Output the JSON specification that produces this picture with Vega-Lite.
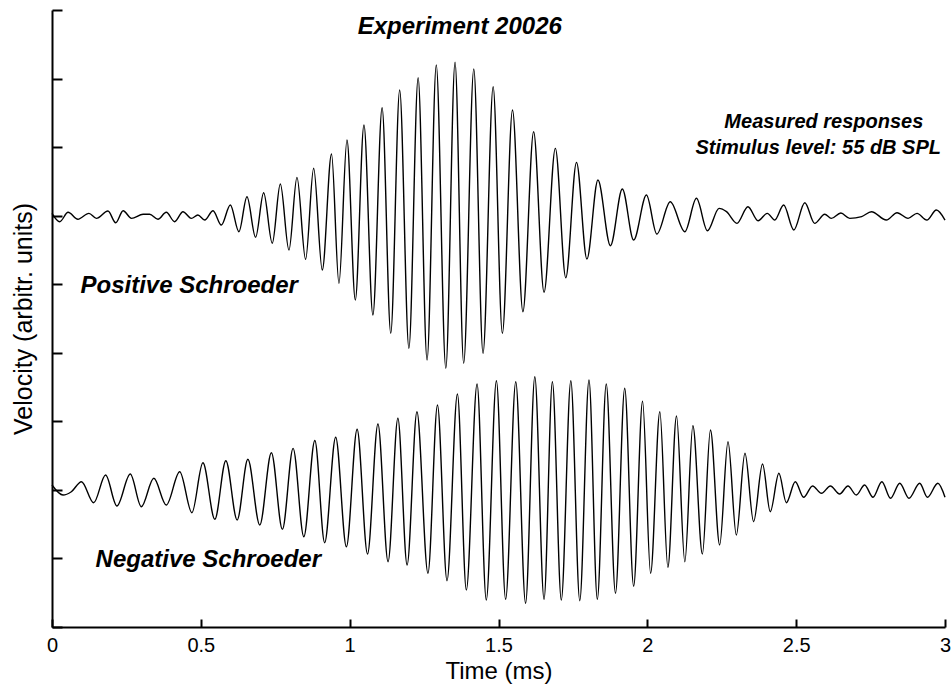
{
  "$schema": "https://vega.github.io/schema/vega-lite/v6.json",
  "width": 893,
  "height": 617,
  "autosize": "none",
  "padding": {"left": 52, "top": 10, "right": 6, "bottom": 59},
  "background": "white",
  "config": {
    "view": {"stroke": null},
    "axis": {
      "grid": false,
      "domainColor": "black",
      "domainWidth": 2,
      "tickColor": "black",
      "tickWidth": 2,
      "labelColor": "black",
      "titleColor": "black",
      "labelFont": "Liberation Sans",
      "titleFont": "Liberation Sans",
      "titleFontWeight": "normal"
    }
  },
  "datasets": {
    "waves": [
      {"series":"Positive","time":0,"velocity":6.034},
      {"series":"Positive","time":0.026,"velocity":5.912},
      {"series":"Positive","time":0.054,"velocity":6.049},
      {"series":"Positive","time":0.087,"velocity":5.947},
      {"series":"Positive","time":0.124,"velocity":6.034},
      {"series":"Positive","time":0.149,"velocity":5.961},
      {"series":"Positive","time":0.188,"velocity":6.068},
      {"series":"Positive","time":0.214,"velocity":5.897},
      {"series":"Positive","time":0.239,"velocity":6.072},
      {"series":"Positive","time":0.267,"velocity":5.961},
      {"series":"Positive","time":0.306,"velocity":6.020},
      {"series":"Positive","time":0.328,"velocity":6.020},
      {"series":"Positive","time":0.356,"velocity":5.947},
      {"series":"Positive","time":0.384,"velocity":6.049},
      {"series":"Positive","time":0.412,"velocity":5.912},
      {"series":"Positive","time":0.440,"velocity":6.058},
      {"series":"Positive","time":0.468,"velocity":5.961},
      {"series":"Positive","time":0.490,"velocity":6.009},
      {"series":"Positive","time":0.513,"velocity":5.936},
      {"series":"Positive","time":0.541,"velocity":6.072},
      {"series":"Positive","time":0.569,"velocity":5.863},
      {"series":"Positive","time":0.599,"velocity":6.155},
      {"series":"Positive","time":0.628,"velocity":5.766},
      {"series":"Positive","time":0.655,"velocity":6.276},
      {"series":"Positive","time":0.684,"velocity":5.684},
      {"series":"Positive","time":0.711,"velocity":6.335},
      {"series":"Positive","time":0.740,"velocity":5.597},
      {"series":"Positive","time":0.767,"velocity":6.462},
      {"series":"Positive","time":0.796,"velocity":5.499},
      {"series":"Positive","time":0.823,"velocity":6.559},
      {"series":"Positive","time":0.852,"velocity":5.363},
      {"series":"Positive","time":0.879,"velocity":6.691},
      {"series":"Positive","time":0.908,"velocity":5.207},
      {"series":"Positive","time":0.939,"velocity":6.899},
      {"series":"Positive","time":0.964,"velocity":5.013},
      {"series":"Positive","time":0.991,"velocity":7.103},
      {"series":"Positive","time":1.019,"velocity":4.770},
      {"series":"Positive","time":1.048,"velocity":7.322},
      {"series":"Positive","time":1.078,"velocity":4.551},
      {"series":"Positive","time":1.109,"velocity":7.574},
      {"series":"Positive","time":1.138,"velocity":4.284},
      {"series":"Positive","time":1.168,"velocity":7.833},
      {"series":"Positive","time":1.199,"velocity":4.065},
      {"series":"Positive","time":1.230,"velocity":8.012},
      {"series":"Positive","time":1.260,"velocity":3.894},
      {"series":"Positive","time":1.291,"velocity":8.197},
      {"series":"Positive","time":1.323,"velocity":3.773},
      {"series":"Positive","time":1.354,"velocity":8.237},
      {"series":"Positive","time":1.383,"velocity":3.846},
      {"series":"Positive","time":1.417,"velocity":8.139},
      {"series":"Positive","time":1.448,"velocity":3.992},
      {"series":"Positive","time":1.482,"velocity":7.881},
      {"series":"Positive","time":1.513,"velocity":4.284},
      {"series":"Positive","time":1.547,"velocity":7.541},
      {"series":"Positive","time":1.582,"velocity":4.599},
      {"series":"Positive","time":1.618,"velocity":7.224},
      {"series":"Positive","time":1.653,"velocity":4.882},
      {"series":"Positive","time":1.691,"velocity":6.982},
      {"series":"Positive","time":1.726,"velocity":5.095},
      {"series":"Positive","time":1.762,"velocity":6.778},
      {"series":"Positive","time":1.797,"velocity":5.368},
      {"series":"Positive","time":1.834,"velocity":6.520},
      {"series":"Positive","time":1.876,"velocity":5.562},
      {"series":"Positive","time":1.916,"velocity":6.389},
      {"series":"Positive","time":1.954,"velocity":5.645},
      {"series":"Positive","time":1.997,"velocity":6.301},
      {"series":"Positive","time":2.032,"velocity":5.732},
      {"series":"Positive","time":2.077,"velocity":6.203},
      {"series":"Positive","time":2.126,"velocity":5.766},
      {"series":"Positive","time":2.165,"velocity":6.253},
      {"series":"Positive","time":2.202,"velocity":5.780},
      {"series":"Positive","time":2.241,"velocity":6.107},
      {"series":"Positive","time":2.266,"velocity":6.058},
      {"series":"Positive","time":2.301,"velocity":5.888},
      {"series":"Positive","time":2.338,"velocity":6.130},
      {"series":"Positive","time":2.372,"velocity":5.926},
      {"series":"Positive","time":2.403,"velocity":6.034},
      {"series":"Positive","time":2.428,"velocity":5.936},
      {"series":"Positive","time":2.458,"velocity":6.155},
      {"series":"Positive","time":2.492,"velocity":5.791},
      {"series":"Positive","time":2.529,"velocity":6.189},
      {"series":"Positive","time":2.562,"velocity":5.888},
      {"series":"Positive","time":2.596,"velocity":6.020},
      {"series":"Positive","time":2.618,"velocity":5.961},
      {"series":"Positive","time":2.650,"velocity":6.039},
      {"series":"Positive","time":2.680,"velocity":5.961},
      {"series":"Positive","time":2.720,"velocity":5.987},
      {"series":"Positive","time":2.753,"velocity":6.058},
      {"series":"Positive","time":2.803,"velocity":5.936},
      {"series":"Positive","time":2.839,"velocity":6.043},
      {"series":"Positive","time":2.876,"velocity":5.961},
      {"series":"Positive","time":2.906,"velocity":6.034},
      {"series":"Positive","time":2.939,"velocity":5.936},
      {"series":"Positive","time":2.971,"velocity":6.082},
      {"series":"Positive","time":3.0,"velocity":5.936},
      {"series":"Negative","time":0,"velocity":2.071},
      {"series":"Negative","time":0.037,"velocity":1.925},
      {"series":"Negative","time":0.065,"velocity":1.973},
      {"series":"Negative","time":0.099,"velocity":2.119},
      {"series":"Negative","time":0.140,"velocity":1.813},
      {"series":"Negative","time":0.180,"velocity":2.217},
      {"series":"Negative","time":0.218,"velocity":1.765},
      {"series":"Negative","time":0.263,"velocity":2.232},
      {"series":"Negative","time":0.300,"velocity":1.755},
      {"series":"Negative","time":0.342,"velocity":2.169},
      {"series":"Negative","time":0.384,"velocity":1.779},
      {"series":"Negative","time":0.429,"velocity":2.265},
      {"series":"Negative","time":0.470,"velocity":1.667},
      {"series":"Negative","time":0.507,"velocity":2.396},
      {"series":"Negative","time":0.547,"velocity":1.571},
      {"series":"Negative","time":0.584,"velocity":2.426},
      {"series":"Negative","time":0.622,"velocity":1.561},
      {"series":"Negative","time":0.658,"velocity":2.446},
      {"series":"Negative","time":0.698,"velocity":1.488},
      {"series":"Negative","time":0.737,"velocity":2.542},
      {"series":"Negative","time":0.774,"velocity":1.425},
      {"series":"Negative","time":0.810,"velocity":2.606},
      {"series":"Negative","time":0.846,"velocity":1.317},
      {"series":"Negative","time":0.883,"velocity":2.720},
      {"series":"Negative","time":0.916,"velocity":1.230},
      {"series":"Negative","time":0.953,"velocity":2.767},
      {"series":"Negative","time":0.989,"velocity":1.171},
      {"series":"Negative","time":1.025,"velocity":2.884},
      {"series":"Negative","time":1.060,"velocity":1.065},
      {"series":"Negative","time":1.095,"velocity":2.961},
      {"series":"Negative","time":1.129,"velocity":0.952},
      {"series":"Negative","time":1.162,"velocity":3.044},
      {"series":"Negative","time":1.193,"velocity":0.904},
      {"series":"Negative","time":1.226,"velocity":3.140},
      {"series":"Negative","time":1.263,"velocity":0.783},
      {"series":"Negative","time":1.295,"velocity":3.238},
      {"series":"Negative","time":1.327,"velocity":0.675},
      {"series":"Negative","time":1.362,"velocity":3.398},
      {"series":"Negative","time":1.392,"velocity":0.540},
      {"series":"Negative","time":1.428,"velocity":3.544},
      {"series":"Negative","time":1.459,"velocity":0.394},
      {"series":"Negative","time":1.493,"velocity":3.592},
      {"series":"Negative","time":1.524,"velocity":0.404},
      {"series":"Negative","time":1.558,"velocity":3.578},
      {"series":"Negative","time":1.591,"velocity":0.346},
      {"series":"Negative","time":1.622,"velocity":3.651},
      {"series":"Negative","time":1.653,"velocity":0.404},
      {"series":"Negative","time":1.681,"velocity":3.578},
      {"series":"Negative","time":1.711,"velocity":0.394},
      {"series":"Negative","time":1.743,"velocity":3.592},
      {"series":"Negative","time":1.773,"velocity":0.384},
      {"series":"Negative","time":1.804,"velocity":3.603},
      {"series":"Negative","time":1.832,"velocity":0.404},
      {"series":"Negative","time":1.862,"velocity":3.544},
      {"series":"Negative","time":1.893,"velocity":0.492},
      {"series":"Negative","time":1.924,"velocity":3.482},
      {"series":"Negative","time":1.954,"velocity":0.594},
      {"series":"Negative","time":1.984,"velocity":3.293},
      {"series":"Negative","time":2.011,"velocity":0.783},
      {"series":"Negative","time":2.042,"velocity":3.140},
      {"series":"Negative","time":2.069,"velocity":0.871},
      {"series":"Negative","time":2.098,"velocity":3.078},
      {"series":"Negative","time":2.126,"velocity":0.952},
      {"series":"Negative","time":2.153,"velocity":2.936},
      {"series":"Negative","time":2.185,"velocity":1.065},
      {"series":"Negative","time":2.212,"velocity":2.873},
      {"series":"Negative","time":2.243,"velocity":1.196},
      {"series":"Negative","time":2.271,"velocity":2.703},
      {"series":"Negative","time":2.299,"velocity":1.342},
      {"series":"Negative","time":2.328,"velocity":2.534},
      {"series":"Negative","time":2.357,"velocity":1.536},
      {"series":"Negative","time":2.387,"velocity":2.377},
      {"series":"Negative","time":2.413,"velocity":1.682},
      {"series":"Negative","time":2.442,"velocity":2.242},
      {"series":"Negative","time":2.467,"velocity":1.813},
      {"series":"Negative","time":2.497,"velocity":2.119},
      {"series":"Negative","time":2.525,"velocity":1.892},
      {"series":"Negative","time":2.555,"velocity":2.057},
      {"series":"Negative","time":2.585,"velocity":1.950},
      {"series":"Negative","time":2.615,"velocity":2.057},
      {"series":"Negative","time":2.646,"velocity":1.940},
      {"series":"Negative","time":2.674,"velocity":2.057},
      {"series":"Negative","time":2.702,"velocity":1.925},
      {"series":"Negative","time":2.730,"velocity":2.071},
      {"series":"Negative","time":2.758,"velocity":1.892},
      {"series":"Negative","time":2.788,"velocity":2.119},
      {"series":"Negative","time":2.817,"velocity":1.877},
      {"series":"Negative","time":2.848,"velocity":2.096},
      {"series":"Negative","time":2.879,"velocity":1.877},
      {"series":"Negative","time":2.915,"velocity":2.096},
      {"series":"Negative","time":2.941,"velocity":1.892},
      {"series":"Negative","time":2.976,"velocity":2.096},
      {"series":"Negative","time":3.0,"velocity":1.892}
    ],
    "bigLabels": [
      {"label":"Experiment 20026","time":1.37,"velocity":8.657},
      {"label":"Positive Schroeder","time":0.461,"velocity":4.876},
      {"label":"Negative Schroeder","time":0.525,"velocity":0.88}
    ],
    "smallLabels": [
      {"label":"Measured responses","time":2.593,"velocity":7.283},
      {"label":"Stimulus level: 55 dB SPL","time":2.574,"velocity":6.899}
    ]
  },
  "layer": [
    {
      "data": {"name": "waves"},
      "mark": {"type": "line", "interpolate": "monotone", "color": "black", "strokeWidth": 1.4},
      "encoding": {
        "x": {
          "field": "time", "type": "quantitative",
          "scale": {"domain": [0, 3], "nice": false, "zero": false},
          "axis": {
            "values": [0, 0.5, 1, 1.5, 2, 2.5, 3],
            "format": "~g",
            "tickSize": -8,
            "labelPadding": 16,
            "labelFontSize": 20,
            "labelFlush": false,
            "labelOverlap": false,
            "title": "Time (ms)",
            "titleFontSize": 24,
            "titlePadding": 4
          }
        },
        "y": {
          "field": "velocity", "type": "quantitative",
          "scale": {"domain": [0, 9], "nice": false, "zero": false},
          "axis": {
            "values": [0, 1, 2, 3, 4, 5, 6, 7, 8, 9],
            "labels": false,
            "tickSize": -10,
            "title": "Velocity (arbitr. units)",
            "titleFontSize": 25,
            "titlePadding": 15
          }
        },
        "detail": {"field": "series", "type": "nominal"}
      }
    },
    {
      "data": {"name": "bigLabels"},
      "mark": {"type": "text", "font": "Liberation Sans", "fontSize": 24, "fontWeight": "bold", "fontStyle": "italic", "align": "center", "baseline": "alphabetic", "color": "black"},
      "encoding": {
        "x": {"field": "time", "type": "quantitative"},
        "y": {"field": "velocity", "type": "quantitative"},
        "text": {"field": "label", "type": "nominal"}
      }
    },
    {
      "data": {"name": "smallLabels"},
      "mark": {"type": "text", "font": "Liberation Sans", "fontSize": 20, "fontWeight": "bold", "fontStyle": "italic", "align": "center", "baseline": "alphabetic", "color": "black"},
      "encoding": {
        "x": {"field": "time", "type": "quantitative"},
        "y": {"field": "velocity", "type": "quantitative"},
        "text": {"field": "label", "type": "nominal"}
      }
    }
  ]
}
